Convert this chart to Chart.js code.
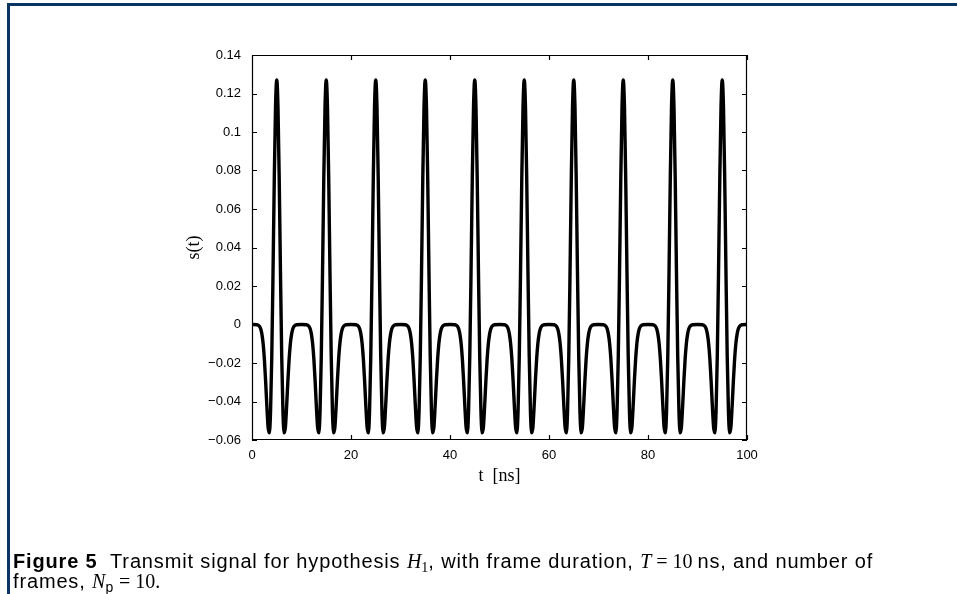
<!DOCTYPE html>
<html>
<head>
<meta charset="utf-8">
<script src="https://cdn.jsdelivr.net/npm/chart.js@4.4.1/dist/chart.umd.min.js"></script>
<style>
  html, body { margin: 0; padding: 0; background: #fff; }
  #wrap { position: relative; width: 957px; height: 594px; overflow: hidden; }
  #frame {
    position: absolute; left: 7px; top: 3px; width: 960px; height: 600px;
    border-top: 3px solid #0a3461; border-left: 3px solid #0a3461;
  }
  canvas { position: absolute; left: 0; top: 0; }
  #caption {
    position: absolute; left: 13px; top: 551px;
    font-family: "Liberation Sans", Arial, sans-serif; font-size: 20px; line-height: 20px;
    letter-spacing: 0.85px; color: #000; white-space: nowrap;
  }
  #caption .m { font-family: "Liberation Serif", serif; letter-spacing: 0; }
  #caption sub { font-size: 14px; line-height: 0; vertical-align: -4px; }
</style>
</head>
<body>
<div id="wrap">
  <div id="frame"></div>
  <canvas id="chart" width="957" height="594"></canvas>
  <div id="caption"><b>Figure 5</b>&nbsp; Transmit signal for hypothesis <span class="m"><i>H</i><sub>1</sub></span>, with frame duration, <span class="m"><i>T</i>&nbsp;=&nbsp;10</span>&thinsp;ns, and number of<br>frames, <span class="m"><i>N</i></span><sub>p</sub><span class="m">&nbsp;=&nbsp;10.</span></div>
</div>
<script>
// one frame of the transmit pulse (offset inside the frame in ns)
const pulseOffsets = [0, 1, 1.5, 1.75, 2, 2.25, 2.5, 2.75, 3, 3.25, 3.5, 3.75, 4, 4.25, 4.5, 4.75,
  5, 5.25, 5.5, 5.75, 6, 6.25, 6.5, 6.75, 7, 7.25, 7.5, 7.75, 8, 8.25, 8.5, 9];
const pulseValues = [0, -0.0001, -0.0009, -0.0022, -0.005, -0.0099, -0.018, -0.0293, -0.0423, -0.0533, -0.0563, -0.045, -0.0161, 0.0274, 0.0753, 0.1128,
  0.127, 0.1128, 0.0753, 0.0274, -0.0161, -0.045, -0.0563, -0.0533, -0.0423, -0.0293, -0.018, -0.0099, -0.005, -0.0022, -0.0009, -0.0001];
// frame start times, T = 10 ns, Np = 10
const frameStarts = [0, 10, 20, 30, 40, 50, 60, 70, 80, 90];
const xTicks = [0, 20, 40, 60, 80, 100];
const yTicks = [-0.06, -0.04, -0.02, 0, 0.02, 0.04, 0.06, 0.08, 0.1, 0.12, 0.14];

const points = [];
frameStarts.forEach((t0) => {
  pulseOffsets.forEach((off, i) => points.push({ x: t0 + off, y: pulseValues[i] }));
});
points.push({ x: 100, y: 0 });

function fmt(v) {
  const s = String(parseFloat(v.toFixed(2)));
  return s.replace('-', '\u2212');
}

// MATLAB style box with inward ticks on all four sides
const boxPlugin = {
  id: 'box',
  afterDraw(chart) {
    const { ctx, chartArea: a, scales } = chart;
    ctx.save();
    ctx.strokeStyle = '#000';
    ctx.lineWidth = 1.2;
    ctx.beginPath();
    ctx.rect(a.left + 0.5, a.top + 0.5, a.right - a.left - 1, a.bottom - a.top - 1);
    const len = 5;
    xTicks.forEach((v) => {
      const px = Math.round(scales.x.getPixelForValue(v)) + 0.5;
      ctx.moveTo(px, a.bottom); ctx.lineTo(px, a.bottom - len);
      ctx.moveTo(px, a.top); ctx.lineTo(px, a.top + len);
    });
    yTicks.forEach((v) => {
      const py = Math.round(scales.y.getPixelForValue(v)) + 0.5;
      ctx.moveTo(a.left, py); ctx.lineTo(a.left + len, py);
      ctx.moveTo(a.right, py); ctx.lineTo(a.right - len, py);
    });
    ctx.stroke();
    ctx.restore();
  }
};

new Chart(document.getElementById('chart'), {
  type: 'line',
  data: {
    datasets: [{
      data: points,
      borderColor: '#000',
      borderWidth: 3.4,
      pointRadius: 0,
      cubicInterpolationMode: 'monotone',
      fill: false
    }]
  },
  options: {
    responsive: false,
    animation: false,
    plugins: { legend: { display: false }, tooltip: { enabled: false } },
    layout: { padding: { left: 0, right: 210, top: 55, bottom: 0 } },
    scales: {
      x: {
        type: 'linear',
        min: 0,
        max: 100,
        afterBuildTicks: (s) => { s.ticks = xTicks.map((v) => ({ value: v })); },
        afterFit: (s) => { s.height = 154; },
        grid: { display: false, drawTicks: false },
        border: { display: false },
        ticks: { color: '#000', padding: 8, maxRotation: 0, font: { family: 'Liberation Sans', size: 13 } },
        title: {
          display: true,
          text: 't  [ns]',
          color: '#000',
          font: { family: 'Liberation Serif', size: 18 },
          padding: { top: 0, bottom: 107 }
        }
      },
      y: {
        min: -0.06,
        max: 0.14,
        afterBuildTicks: (s) => { s.ticks = yTicks.map((v) => ({ value: v })); },
        afterFit: (s) => { s.width = 252; },
        grid: { display: false, drawTicks: false },
        border: { display: false },
        ticks: { color: '#000', padding: 11, callback: (v) => fmt(v), font: { family: 'Liberation Sans', size: 13 } },
        title: {
          display: true,
          text: 's(t)',
          color: '#000',
          font: { family: 'Liberation Serif', size: 18 },
          padding: { top: 183, bottom: 0 }
        }
      }
    }
  },
  plugins: [boxPlugin]
});
</script>
</body>
</html>
